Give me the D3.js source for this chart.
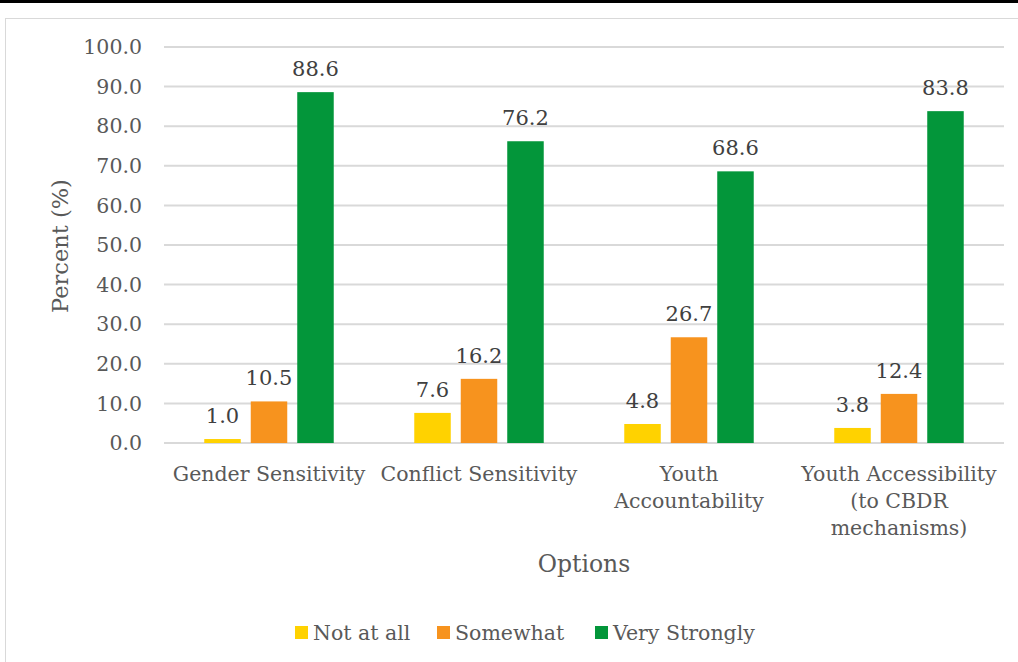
<!DOCTYPE html>
<html>
<head>
<meta charset="utf-8">
<script src="https://cdn.jsdelivr.net/npm/d3@7"></script>
<style>
  body { margin: 0; background: #fff; }
  text { font-family: Georgia, "DejaVu Serif", serif; }
</style>
</head>
<body>
<svg id="chart" width="1018" height="662"></svg>
<script>
// values
var categories = [["Gender Sensitivity"], ["Conflict Sensitivity"],
  ["Youth", "Accountability"], ["Youth Accessibility", "(to CBDR", "mechanisms)"]];
var seriesNames = ["Not at all", "Somewhat", "Very Strongly"];
var notAtAll = [1.0, 7.6, 4.8, 3.8];
var somewhat = [10.5, 16.2, 26.7, 12.4];
var veryStrongly = [88.6, 76.2, 68.6, 83.8];
var yTicks = [0, 10, 20, 30, 40, 50, 60, 70, 80, 90, 100];
var colors = ["#FFD200", "#F7931E", "#03963A"];

var series = [notAtAll, somewhat, veryStrongly];
var svg = d3.select("#chart");
var fs = 20.5;

// black strip on top and frame
svg.append("rect").attr("x", 0).attr("y", 0).attr("width", 1018).attr("height", 3).attr("fill", "#000");
svg.append("rect").attr("x", 5.5).attr("y", 18.5).attr("width", 1030).attr("height", 700)
  .attr("fill", "none").attr("stroke", "#d9d9d9");

var plotL = 164, plotR = 1004, plotT = 47, plotB = 443;

var y = d3.scaleLinear().domain([0, 100]).range([plotB, plotT]);
var x0 = d3.scaleBand().domain(d3.range(categories.length)).range([plotL, plotR]).paddingInner(0).paddingOuter(0);
var x1 = d3.scaleBand().domain(d3.range(series.length)).range([0, x0.bandwidth()]).paddingInner(0.215).paddingOuter(0.866);

// grid
svg.append("g").selectAll("line").data(yTicks).enter().append("line")
  .attr("x1", plotL).attr("x2", plotR)
  .attr("y1", function(d) { return y(d); }).attr("y2", function(d) { return y(d); })
  .attr("stroke", "#d9d9d9").attr("stroke-width", 2);

// y tick labels
svg.append("g").selectAll("text").data(yTicks).enter().append("text")
  .attr("x", 142).attr("y", function(d) { return y(d); }).attr("dy", "0.35em")
  .attr("text-anchor", "end").attr("fill", "#595959").attr("font-size", fs)
  .text(function(d) { return d.toFixed(1); });

// bars
var groups = svg.append("g").selectAll("g").data(series).enter().append("g")
  .attr("fill", function(d, i) { return colors[i]; });
groups.each(function(vals, si) {
  var g = d3.select(this);
  g.selectAll("rect").data(vals).enter().append("rect")
    .attr("x", function(d, ci) { return x0(ci) + x1(si); })
    .attr("y", function(d) { return y(d); })
    .attr("width", x1.bandwidth())
    .attr("height", function(d) { return y(0) - y(d); });
  g.selectAll("text").data(vals).enter().append("text")
    .attr("x", function(d, ci) { return x0(ci) + x1(si) + x1.bandwidth() / 2; })
    .attr("y", function(d) { return y(d) - 16; })
    .attr("text-anchor", "middle").attr("fill", "#404040").attr("font-size", fs + 0.5)
    .text(function(d) { return d.toFixed(1); });
});

// category labels
var cat = svg.append("g").selectAll("text").data(categories).enter().append("text")
  .attr("text-anchor", "middle").attr("fill", "#595959").attr("font-size", fs)
  .attr("transform", function(d, i) { return "translate(" + (x0(i) + x0.bandwidth() / 2) + ",481)"; });
cat.selectAll("tspan").data(function(d) { return d; }).enter().append("tspan")
  .attr("x", 0).attr("y", function(d, i) { return i * 27; })
  .text(function(d) { return d; });

// axis titles
svg.append("text").attr("x", 584).attr("y", 572).attr("text-anchor", "middle")
  .attr("fill", "#595959").attr("font-size", 23.5).text("Options");
svg.append("text").attr("transform", "translate(68,246) rotate(-90)").attr("text-anchor", "middle")
  .attr("fill", "#595959").attr("font-size", 22.5).text("Percent (%)");

// legend
var legX = [295, 437, 595];
var leg = svg.append("g").selectAll("g").data(seriesNames).enter().append("g")
  .attr("transform", function(d, i) { return "translate(" + legX[i] + ",626)"; });
leg.append("rect").attr("width", 13).attr("height", 13).attr("fill", function(d, i) { return colors[i]; });
leg.append("text").attr("x", 18).attr("y", 14).attr("fill", "#595959").attr("font-size", fs)
  .text(function(d) { return d; });
</script>
</body>
</html>
